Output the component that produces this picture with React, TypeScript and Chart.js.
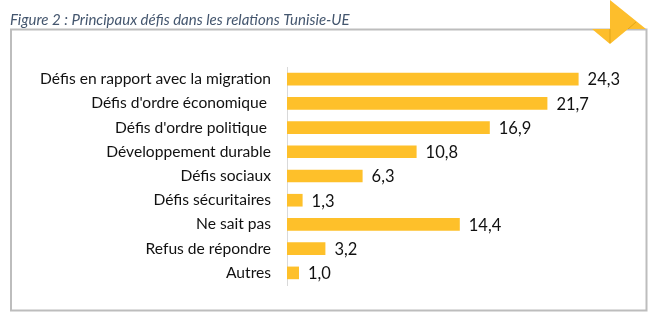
import React, { useEffect, useRef } from "react";
import { Chart, registerables } from "chart.js";

Chart.register(...registerables);

const title = "Figure 2 : Principaux défis dans les relations Tunisie-UE";
const categories = [
  "Défis en rapport avec la migration",
  "Défis d'ordre économique ",
  "Défis d'ordre politique ",
  "Développement durable",
  "Défis sociaux",
  "Défis sécuritaires",
  "Ne sait pas",
  "Refus de répondre",
  "Autres",
];
const values = [24.3, 21.7, 16.9, 10.8, 6.3, 1.3, 14.4, 3.2, 1.0];
const xMax = 28;

const FONT = "Lato, 'Open Sans', sans-serif";
const BAR = "#FEC02A";

const framePlugin = {
  id: "frame",
  beforeDraw(chart: any) {
    const ctx = chart.ctx;
    ctx.save();
    ctx.fillStyle = "#ffffff";
    ctx.fillRect(0, 0, chart.width, chart.height);
    // frame
    ctx.strokeStyle = "#BDBDBD";
    ctx.lineWidth = 2;
    ctx.strokeRect(11, 29.5, 635.5, 281);
    // title
    ctx.fillStyle = "#44566E";
    ctx.font = `italic 15px ${FONT}`;
    ctx.textAlign = "left";
    ctx.textBaseline = "alphabetic";
    ctx.fillText(title, 10, 25);
    ctx.restore();
  },
  afterDraw(chart: any) {
    const ctx = chart.ctx;
    ctx.save();
    ctx.fillStyle = "#FDBE2C";
    ctx.beginPath();
    ctx.moveTo(610, 0);
    ctx.lineTo(646, 29);
    ctx.lineTo(628, 29);
    ctx.lineTo(610, 44);
    ctx.lineTo(592, 29);
    ctx.lineTo(610, 29);
    ctx.closePath();
    ctx.fill();
    ctx.strokeStyle = "#E2A516";
    ctx.lineWidth = 1;
    ctx.beginPath();
    ctx.moveTo(610, 29);
    ctx.lineTo(610, 43);
    ctx.moveTo(628, 29);
    ctx.lineTo(636, 22);
    ctx.stroke();
    ctx.restore();
  },
};

const labelPlugin = {
  id: "valueLabels",
  afterDatasetsDraw(chart: any) {
    const ctx = chart.ctx;
    const meta = chart.getDatasetMeta(0);
    ctx.save();
    ctx.fillStyle = "#111111";
    ctx.font = `16.5px ${FONT}`;
    ctx.textAlign = "left";
    ctx.textBaseline = "middle";
    meta.data.forEach((bar: any, i: number) => {
      const txt = values[i].toFixed(1).replace(".", ",");
      ctx.fillText(txt, bar.x + 9, bar.y + 1);
    });
    ctx.restore();
  },
};

export default function App() {
  const ref = useRef<HTMLCanvasElement>(null);
  useEffect(() => {
    if (!ref.current) return;
    const chart = new Chart(ref.current, {
      type: "bar",
      data: {
        labels: categories,
        datasets: [
          {
            data: values,
            backgroundColor: BAR,
            borderWidth: 0,
            categoryPercentage: 0.58,
            barPercentage: 0.9,
          },
        ],
      },
      options: {
        indexAxis: "y",
        responsive: false,
        animation: false,
        devicePixelRatio: 1,
        layout: { padding: { top: 67, bottom: 39, left: 0, right: 660 - (287 + 12 * xMax) } },
        plugins: { legend: { display: false }, tooltip: { enabled: false }, title: { display: false } },
        scales: {
          x: { display: false, min: 0, max: xMax },
          y: {
            afterFit(scale: any) {
              scale.width = 287;
            },
            grid: { display: false, drawTicks: false },
            border: { display: true, color: "#D9D9D9", width: 1 },
            ticks: {
              padding: 16,
              color: "#111111",
              font: { family: FONT, size: 15.6 },
            },
          },
        },
      },
      plugins: [framePlugin, labelPlugin],
    });
    return () => chart.destroy();
  }, []);
  return (
    <div style={{ position: "fixed", left: 0, top: 0, width: 660, height: 324 }}>
      <canvas ref={ref} width={660} height={324} style={{ width: 660, height: 324, display: "block" }} />
    </div>
  );
}
